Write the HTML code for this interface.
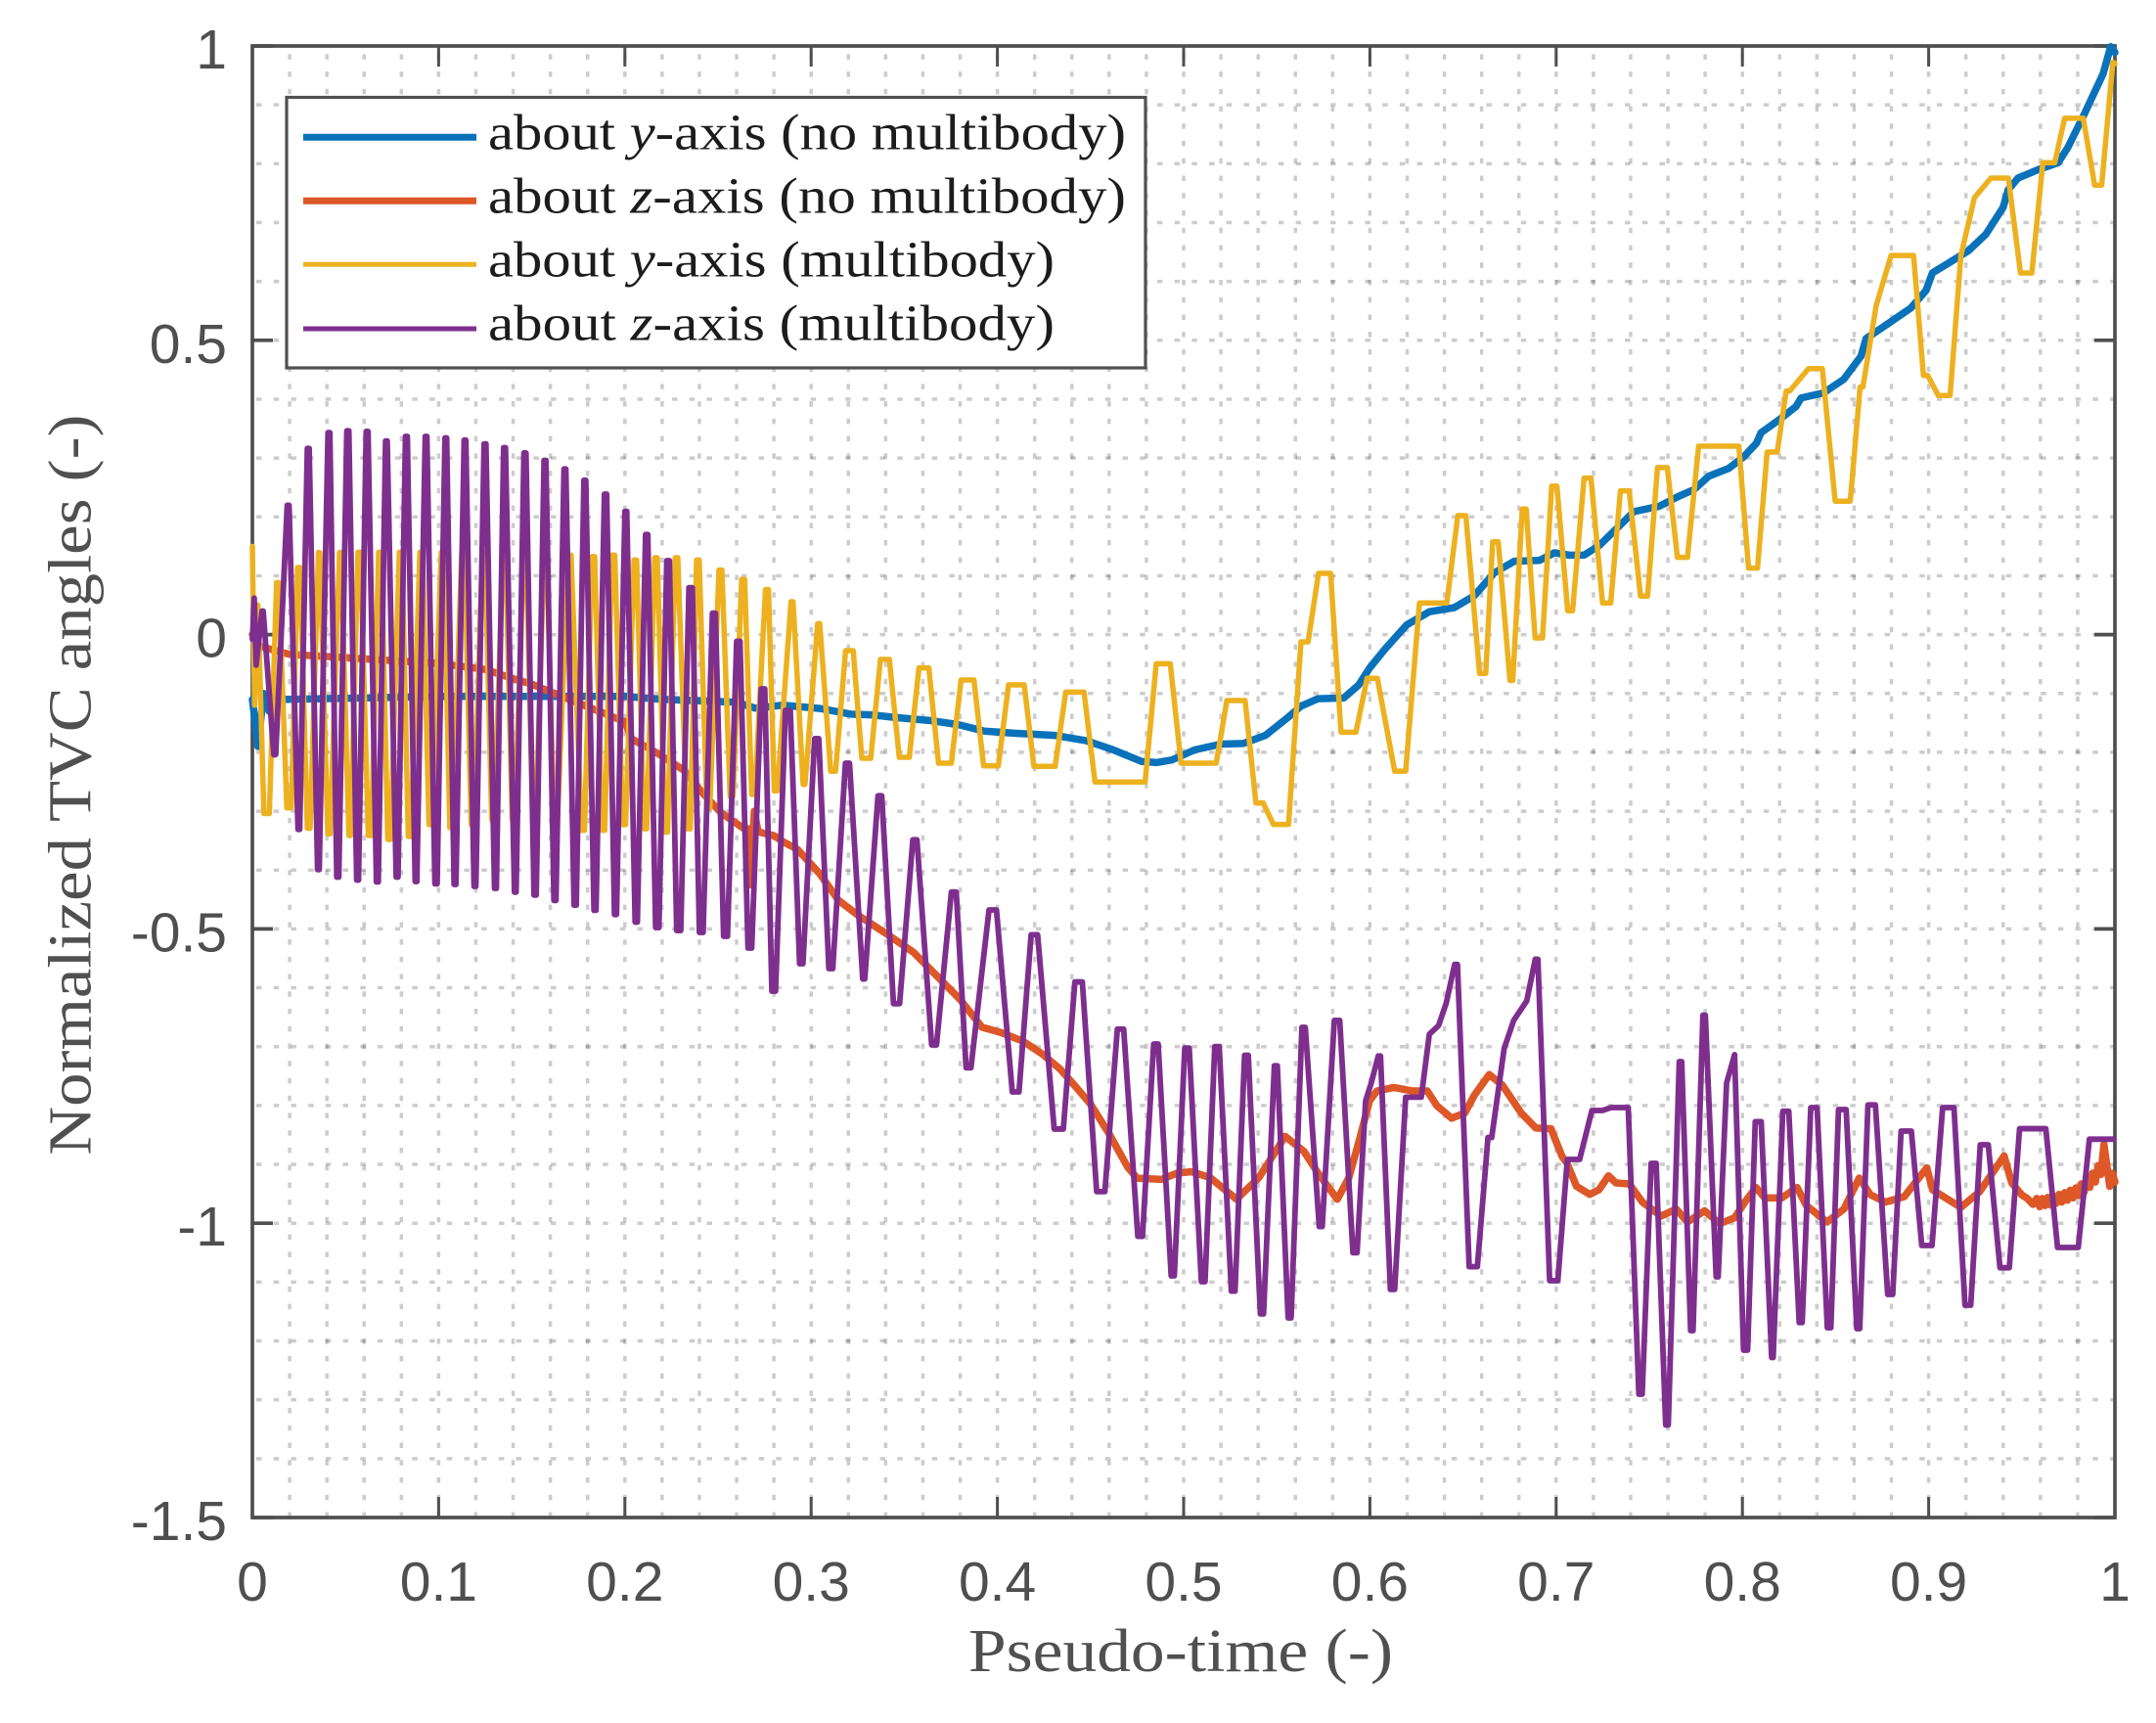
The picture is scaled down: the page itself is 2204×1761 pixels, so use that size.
<!DOCTYPE html>
<html lang="en">
<head>
<meta charset="utf-8">
<title>Normalized TVC angles vs pseudo-time</title>
<style>
html,body{margin:0;padding:0;background:#fff;width:2204px;height:1761px;overflow:hidden}
svg{display:block}
</style>
</head>
<body>
<svg id="chart" xmlns="http://www.w3.org/2000/svg" width="2204" height="1761" viewBox="0 0 2204 1761">
  <rect x="0" y="0" width="2204" height="1761" fill="#ffffff"/>
  <g id="grid"></g>
  <g id="axes"></g>
  <g id="series"></g>
  <text x="990" y="1708" font-family="'Liberation Serif',serif" font-size="62" fill="#505050" textLength="434" lengthAdjust="spacingAndGlyphs">Pseudo-time (-)</text>
  <text transform="translate(92.7,1180.6) rotate(-90)" font-family="'Liberation Serif',serif" font-size="62" fill="#505050" textLength="757" lengthAdjust="spacingAndGlyphs">Normalized TVC angles (-)</text>
  <g font-family="'Liberation Serif',serif" font-size="52" fill="#1c1c1c">
    <rect x="293" y="99.5" width="878" height="276.5" fill="#ffffff" stroke="#505050" stroke-width="3.2"/>
    <line x1="310" x2="487" y1="140.3" y2="140.3" stroke="#0a72ba" stroke-width="7"/>
    <line x1="310" x2="487" y1="205.3" y2="205.3" stroke="#dd5727" stroke-width="7"/>
    <line x1="310" x2="487" y1="270.3" y2="270.3" stroke="#edb120" stroke-width="5"/>
    <line x1="310" x2="487" y1="336" y2="336" stroke="#7e2f8e" stroke-width="5"/>
    <text x="499" y="152.7" textLength="652" lengthAdjust="spacingAndGlyphs">about <tspan font-style="italic">y</tspan>-axis (no multibody)</text>
    <text x="499" y="217.5" textLength="652" lengthAdjust="spacingAndGlyphs">about <tspan font-style="italic">z</tspan>-axis (no multibody)</text>
    <text x="499" y="282.7" textLength="579" lengthAdjust="spacingAndGlyphs">about <tspan font-style="italic">y</tspan>-axis (multibody)</text>
    <text x="499" y="347.5" textLength="579" lengthAdjust="spacingAndGlyphs">about <tspan font-style="italic">z</tspan>-axis (multibody)</text>
  </g>
</svg>
<script>
const xTickValues = [0, 0.1, 0.2, 0.3, 0.4, 0.5, 0.6, 0.7, 0.8, 0.9, 1];
const xTickLabels = ['0', '0.1', '0.2', '0.3', '0.4', '0.5', '0.6', '0.7', '0.8', '0.9', '1'];
const yTickValues = [1, 0.5, 0, -0.5, -1, -1.5];
const yTickLabels = ['1', '0.5', '0', '-0.5', '-1', '-1.5'];

const blueT = [0,.003,.006,.009,.012,.02,.1,.2,.22,.26,.27,.2847,.3047,.321,.333,.345,.365,.379,.393,.409,.431,.4475,.4616,.4775,.4857,.4937,.5058,.52,.532,.544,.556,.563,.572,.586,.594,.5998,.608,.6197,.632,.6453,.656,.6668,.6775,.691,.699,.707,.715,.723,.7337,.7418,.7553,.766,.774,.782,.7926,.8007,.8075,.81,.8195,.8288,.8315,.8435,.8544,.8637,.8664,.8785,.8905,.8986,.902,.9106,.9213,.9307,.94,.9427,.948,.9589,.9695,.9748,.983,.9937,.9977,1];
const blueV = [-.11,-.19,-.10,-.13,-.11,-.11,-.105,-.105,-.11,-.115,-.125,-.12,-.1255,-.135,-.1365,-.1407,-.1464,-.153,-.164,-.1675,-.1713,-.18,-.195,-.2156,-.2173,-.213,-.196,-.186,-.185,-.171,-.1407,-.1215,-.109,-.1076,-.0855,-.057,-.025,.0163,.039,.0459,.0658,.105,.1247,.126,.139,.135,.135,.151,.184,.209,.218,.2353,.2463,.2693,.2824,.302,.325,.343,.3645,.3876,.402,.4105,.4337,.473,.503,.529,.555,.5848,.6144,.631,.652,.68,.726,.7557,.7756,.79,.8017,.828,.8805,.953,.9988,.989];

const orangeT = [0,.004,.02,.05,.1,.125,.14,.15,.17,.2,.2036,.2176,.2318,.2416,.2518,.2638,.2665,.2675,.2695,.2715,.28,.2847,.2927,.3047,.3146,.3249,.3409,.355,.3671,.38,.3917,.4018,.4138,.4238,.4338,.442,.45,.46,.47,.4751,.4882,.4962,.5042,.5142,.5284,.5404,.5545,.5646,.5725,.5825,.5887,.5945,.5998,.6038,.6128,.6229,.6308,.6359,.6439,.651,.656,.6641,.6711,.6812,.6891,.6972,.7032,.7059,.7109,.718,.723,.7281,.7321,.7392,.7463,.7563,.7645,.7705,.7797,.7878,.7958,.802,.8073,.812,.8212,.8293,.8343,.8454,.8545,.8627,.8687,.8768,.8869,.899,.9021,.9173,.9274,.9405,.9446,.95,.953,.956,.958,.9596,.961,.9625,.964,.9655,.967,.9685,.97,.9715,.973,.9745,.976,.9775,.979,.9805,.982,.9835,.985,.9865,.988,.9895,.991,.9925,.9941,.9972,.9985,1];
const orangeV = [0,-.02,-.0336,-.0392,-.049,-.0592,-.0748,-.0842,-.11,-.148,-.177,-.2018,-.2307,-.2686,-.3032,-.3293,-.33,-.425,-.30,-.335,-.3415,-.3514,-.365,-.4066,-.4511,-.4761,-.5093,-.5399,-.5786,-.62,-.667,-.6759,-.6908,-.7118,-.7385,-.768,-.7977,-.8482,-.905,-.9237,-.9254,-.9152,-.9124,-.9225,-.9593,-.9225,-.8524,-.878,-.9166,-.9593,-.9225,-.8567,-.7919,-.7753,-.7693,-.7753,-.7753,-.8002,-.8216,-.8127,-.7829,-.7474,-.7653,-.8127,-.8383,-.8394,-.8867,-.8983,-.9373,-.951,-.9432,-.9195,-.9315,-.9332,-.9641,-.9879,-.9759,-.998,-.9789,-1.0008,-.9907,-.9611,-.9392,-.957,-.957,-.9392,-.9697,-.998,-.9759,-.9232,-.9515,-.9641,-.9548,-.9059,-.9432,-.9731,-.9463,-.8857,-.9315,-.952,-.958,-.968,-.958,-.972,-.958,-.970,-.956,-.969,-.954,-.966,-.951,-.964,-.948,-.961,-.944,-.957,-.940,-.953,-.933,-.947,-.925,-.939,-.915,-.930,-.902,-.917,-.866,-.9373,-.915,-.93];

const yellowT = [0,.0012,.003,
  .0062,.0091,.0130,.0141,.0185,.0209,.0243,.0256,.0295,.0310,.0355,.0362,.0405,.0417,.0468,.0476,.0518,.0527,
  .0567,.058,.0622,.0638,.0678,.0692,.0727,.0741,.0789,.0803,.0837,.0851,.0899,.0913,.0948,.0962,.1014,.1028,
  .106,.1074,.1124,.1138,.1175,.1189,.1235,.1249,.1285,.1299,.1345,.1359,.1395,.1409,.1456,.147,.1506,.152,
  .1567,.1581,.162,.1636,.1697,.1711,.1767,.1783,.1824,.1838,.1878,.1892,.193,.1946,.1988,.2004,.2049,.2063,
  .2103,.2117,.216,.2174,.2215,.2229,.227,.2284,.2335,.2351,.2385,.2399,.244,.2456,.2505,.2521,.2565,.2581,
  .2627,.2643,.2681,.2697,.2755,.2771,.2802,.2818,
  .2892,.2903,.2957,.2967,.3035,.3046,.3105,.3131,.3185,.3226,.3272,.332,.3372,.342,.3473,.3527,.3579,.3632,
  .3684,.3753,.3805,.3874,.3926,.4005,.406,.4144,.4196,.431,.4367,.4465,.4524,.4793,.4853,.4928,.4986,.5175,
  .5232,.533,.5388,.5427,.5482,.5563,.563,.5668,.5724,.5789,.5845,.5925,.5985,.604,.6133,.6192,.6266,.6413,
  .6472,.6515,.6589,.6622,.6659,.6689,.6752,.6767,.6818,.6839,.6887,.6927,.6976,.7004,.7062,.7088,.715,.7187,
  .7249,.7293,.7345,.7392,.7453,.7491,.7544,.7597,.7651,.7705,.7765,.7981,.8033,.8081,.8133,.8187,.8235,.8254,
  .8355,.8429,.8498,.8579,.8632,.8647,.8718,.8798,.8919,.8972,.8995,.9052,.9115,.9173,.9246,.9281,.9334,.9428,
  .9493,.9554,.9613,.9677,.973,.983,.9891,.9929,.9989,1];
const yellowV = [.15,-.12,.05,
  -.304,-.304,.0885,.0885,-.2944,-.2944,.114,.114,-.329,-.329,.1395,.1395,-.3388,-.3388,.1395,.1395,-.3415,-.3415,
  .14,.14,-.3415,-.3415,.14,.14,-.348,-.348,.14,.14,-.343,-.343,.14,.14,-.323,-.323,.14,.14,
  -.328,-.328,.14,.14,-.323,-.323,.14,.14,-.315,-.315,.14,.14,-.315,-.315,.14,.14,-.323,-.323,
  .139,.139,-.33,-.33,.135,.135,-.3325,-.3325,.1326,.1326,-.3325,-.3325,.135,.135,-.323,-.323,.1268,.1268,
  -.33,-.33,.1306,.1306,-.3356,-.3356,.1306,.1306,-.33,-.33,.1268,.1268,-.2944,-.2944,.1097,.1097,-.2749,-.2749,
  .0938,.0938,-.2717,-.2717,.0766,.0766,-.2656,-.2656,
  .0559,.0559,-.2545,-.2545,.0187,.0187,-.2322,-.2322,-.0273,-.0273,-.21,-.21,-.0422,-.0422,-.2084,-.2084,-.0566,-.0566,
  -.2184,-.2184,-.0771,-.0771,-.2229,-.2229,-.0854,-.0854,-.2239,-.2239,-.0976,-.0976,-.2505,-.2505,-.0494,-.0494,-.2184,-.2184,
  -.112,-.112,-.286,-.286,-.3226,-.3226,-.0123,-.0123,.104,.104,-.1658,-.1658,-.0743,-.0743,-.232,-.232,.0537,.0537,
  .2021,.2021,-.066,-.066,.1576,.1576,-.078,-.078,.2134,.2134,-.0056,-.0056,.2522,.2522,.0405,.0405,.2659,.2659,
  .0537,.0537,.2443,.2443,.0655,.0655,.2837,.2837,.1313,.1313,.3201,.3201,.1129,.1129,.3101,.3101,.4139,.4139,
  .4519,.4519,.2266,.2266,.4206,.4206,.5585,.644,.644,.4402,.4402,.4061,.4061,.644,.7425,.7557,.7756,.7756,
  .6144,.6144,.8017,.8017,.8773,.8773,.7636,.7636,.9725,.97];

const purpleT = [0,.001,.002,.0052,.0058,.0115,.0125,.0187,.0197,.0245,.0254,.0295,.0305,.035,.0359,.0406,.0416,.0453,.0464,.0507,.0518,
  .056,.057,.0611,.0621,.0666,.0676,.0715,.0724,.0772,.0782,.0822,.0832,.0874,.0883,.0928,.0937,.098,.0992,.1034,.1043,
  .1083,.1093,.1137,.1146,.119,.12,.1244,.1254,.13,.131,.1349,.1359,.1407,.1416,.1458,.1469,.1512,.1524,.1566,.1576,
  .1619,.163,.1673,.1683,.1727,.1739,.178,.179,.1834,.1845,.189,.1902,.1944,.1955,.2,.201,.2055,.2067,.2111,.2123,
  .2165,.2183,.2225,.2239,.2278,.23,.2344,.2362,.24,.242,.247,.2486,.253,.2551,.26,.2618,.2661,.2681,.2732,.2751,
  .2789,.2809,.2862,.2888,.2938,.2956,.3019,.3041,.3095,.3116,.3184,.3206,.3277,.3288,.3359,.3379,.3442,.3475,.3546,.3568,
  .3647,.3673,.3753,.3779,.3832,.3858,.3955,.3995,.408,.4116,.4181,.4216,.4305,.4354,.4416,.4456,.4533,.4577,.4644,.4678,
  .4754,.4779,.4839,.4863,.4933,.495,.5006,.503,.5095,.5115,.5167,.5191,.5256,.5276,.5327,.5347,.5412,.5429,.5487,.5503,
  .5561,.5577,.5635,.5653,.5728,.5744,.5809,.5838,.5909,.5931,.5977,.6007,.6045,.6057,.611,.6133,.6192,.6276,.6319,.6369,.641,.6455,.647,
  .6533,.6577,.6634,.6654,.6721,.6772,.6842,.6888,.6902,.6965,.7009,.706,.7126,.7192,.7248,.7295,.7387,
  .7444,.7462,.751,.7537,.7588,.7602,.7661,.7674,.7722,.7735,.7788,.7801,.7859,.787,.7915,.7958,.8006,.8028,.8069,.8101,
  .8157,.8165,.8217,.8249,.8305,.8321,.8367,.8401,.8456,.8475,.8516,.8557,.8614,.863,.8674,.8714,.878,.8807,.8852,.8907,
  .8963,.9018,.9075,.9136,.9195,.9226,.9277,.932,.9383,.9433,.9488,.9629,.9692,.9803,.9863,.9992];
const purpleV = [-.008,.062,-.052,.04,.04,-.204,-.204,.2197,.2197,-.331,-.331,.3163,.3163,-.3993,-.3993,.3431,.3431,-.412,-.412,.3462,.3462,
  -.417,-.417,.3452,.3452,-.4202,-.4202,.3291,.3291,-.412,-.412,.3368,.3368,-.4196,-.4196,.3368,.3368,-.4234,-.4234,.3342,.3342,
  -.4245,-.4245,.3304,.3304,-.4278,-.4278,.3241,.3241,-.4312,-.4312,.3177,.3177,-.4375,-.4375,.3086,.3086,-.4425,-.4425,.2961,.2961,
  -.4517,-.4517,.2814,.2814,-.4597,-.4597,.2623,.2623,-.4684,-.4684,.2387,.2387,-.4756,-.4756,.2094,.2094,-.4884,-.4884,.17,.17,
  -.4977,-.4977,.1257,.1257,-.5028,-.5028,.0798,.0798,-.506,-.506,.0364,.0364,-.5126,-.5126,-.0113,-.0113,-.5326,-.5326,-.0921,-.0921,
  -.6057,-.6057,-.1287,-.1287,-.5592,-.5592,-.1768,-.1768,-.5675,-.5675,-.2184,-.2184,-.585,-.585,-.2738,-.2738,-.627,-.627,-.3486,-.3486,
  -.697,-.697,-.4373,-.4373,-.736,-.736,-.4678,-.4678,-.7769,-.7769,-.51,-.51,-.84,-.84,-.59,-.59,-.9463,-.9463,-.6702,-.6702,
  -1.0223,-1.0223,-.6955,-.6955,-1.0894,-1.0894,-.7024,-.7024,-1.0993,-1.0993,-.6998,-.6998,-1.1154,-1.1154,-.7147,-.7147,-1.1541,-1.1541,-.7325,-.7325,
  -1.1609,-1.1609,-.6672,-.6672,-1.0057,-1.0057,-.6554,-.6554,-1.0502,-1.0502,-.7919,-.762,-.7159,-.7159,-1.1125,-1.1125,-.7859,-.7859,-.6791,-.664,-.6257,-.5603,-.5603,
  -1.0738,-1.0738,-.8543,-.8543,-.7028,-.6554,-.6224,-.5515,-.5515,-1.0976,-1.0976,-.8916,-.8916,-.8085,-.8085,-.8035,-.8035,
  -1.2905,-1.2905,-.8983,-.8983,-1.3428,-1.3428,-.7254,-.7254,-1.1825,-1.1825,-.6465,-.6465,-1.0911,-1.0911,-.762,-.7136,-1.2157,-1.2157,-.8274,-.8274,
  -1.2282,-1.2282,-.8097,-.8097,-1.1688,-1.1688,-.8035,-.8035,-1.1775,-1.1775,-.8068,-.8068,-1.1791,-1.1791,-.799,-.799,-1.121,-1.121,-.8434,-.8434,
  -1.0379,-1.0379,-.8035,-.8035,-1.1393,-1.1393,-.8667,-.8667,-1.0756,-1.0756,-.8394,-.8394,-1.0412,-1.0412,-.8572,-.8572];

const svgNS = 'http://www.w3.org/2000/svg';
const plotLeft = 258, plotRight = 2162, plotTop = 47, plotBottom = 1551;
const xMin = 0, xMax = 1, yMin = -1.5, yMax = 1;
const axisColor = '#4f4f4f';
function xScale(t) { return plotLeft + (t - xMin) / (xMax - xMin) * (plotRight - plotLeft); }
function yScale(v) { return plotBottom - (v - yMin) / (yMax - yMin) * (plotBottom - plotTop); }
function make(parent, tag, attrs) {
  const node = document.createElementNS(svgNS, tag);
  for (const key in attrs) node.setAttribute(key, attrs[key]);
  parent.appendChild(node);
  return node;
}

const gridGroup = document.getElementById('grid');
for (let i = 1; i < 50; i++) {
  const gx = xScale(i / 50);
  const el = make(gridGroup, 'line', {x1: gx, x2: gx, y1: plotBottom, y2: plotTop, stroke: '#000', 'stroke-opacity': 0.2, 'stroke-width': 3.5, 'stroke-dasharray': '5.5 12.24'});
  
  
}
for (let i = 1; i < 25; i++) {
  const gy = yScale(yMin + i / 10);
  const el = make(gridGroup, 'line', {x1: 262, x2: plotRight, y1: gy, y2: gy, stroke: '#000', 'stroke-opacity': 0.2, 'stroke-width': 3.5, 'stroke-dasharray': '5.5 12.21'});
  
  
}

const axesGroup = document.getElementById('axes');
const frame = make(axesGroup, 'rect', {x: plotLeft, y: plotTop, width: plotRight - plotLeft, height: plotBottom - plotTop, fill: 'none', stroke: axisColor, 'stroke-width': 3.7});



xTickValues.forEach(function (value, i) {
  const px = xScale(value);
  const bottomTick = make(axesGroup, 'line', {x1: px, x2: px, y1: plotBottom, y2: plotBottom - 21, stroke: axisColor, 'stroke-width': 3});
  
  
  const topTick = make(axesGroup, 'line', {x1: px, x2: px, y1: plotTop, y2: plotTop + 21, stroke: axisColor, 'stroke-width': 3});
  
  
  const label = make(axesGroup, 'text', {x: px, y: 1636, 'text-anchor': 'middle', 'font-family': "'Liberation Sans',sans-serif", 'font-size': 57, fill: axisColor});
  label.textContent = xTickLabels[i];
  
  
});

yTickValues.forEach(function (value, i) {
  const py = yScale(value);
  const leftTick = make(axesGroup, 'line', {x1: plotLeft, x2: plotLeft + 21, y1: py, y2: py, stroke: axisColor, 'stroke-width': 3.7});
  
  
  const rightTick = make(axesGroup, 'line', {x1: plotRight, x2: plotRight - 21, y1: py, y2: py, stroke: axisColor, 'stroke-width': 3.7});
  
  
  const label = make(axesGroup, 'text', {x: 232, y: py + 23, 'text-anchor': 'end', 'font-family': "'Liberation Sans',sans-serif", 'font-size': 57, fill: axisColor});
  label.textContent = yTickLabels[i];
  
  
});

function linePoints(ts, vs) {
  const n = Math.min(ts.length, vs.length);
  const out = [];
  for (let i = 0; i < n; i++) out.push(xScale(ts[i]).toFixed(2) + ',' + yScale(vs[i]).toFixed(2));
  return out.join(' ');
}
const seriesGroup = document.getElementById('series');

const blueLine = make(seriesGroup, 'polyline', {points: linePoints(blueT, blueV), fill: 'none', stroke: '#0a72ba', 'stroke-width': 7.5, 'stroke-linejoin': 'round', 'stroke-linecap': 'round'});



const orangeLine = make(seriesGroup, 'polyline', {points: linePoints(orangeT, orangeV), fill: 'none', stroke: '#dd5727', 'stroke-width': 7.5, 'stroke-linejoin': 'round', 'stroke-linecap': 'round'});



const yellowLine = make(seriesGroup, 'polyline', {points: linePoints(yellowT, yellowV), fill: 'none', stroke: '#edb120', 'stroke-width': 5.5, 'stroke-linejoin': 'round', 'stroke-linecap': 'round'});



const purpleLine = make(seriesGroup, 'polyline', {points: linePoints(purpleT, purpleV), fill: 'none', stroke: '#7e2f8e', 'stroke-width': 5.8, 'stroke-linejoin': 'round', 'stroke-linecap': 'round'});


</script>
</body>
</html>
